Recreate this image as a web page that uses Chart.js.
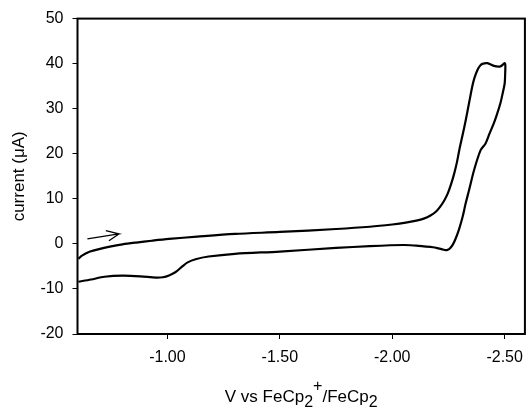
<!DOCTYPE html>
<html>
<head>
<meta charset="utf-8">
<script src="https://cdn.jsdelivr.net/npm/chart.js@4"></script>
<style>
  html, body { margin: 0; padding: 0; background: #fff; }
  #wrap { position: relative; width: 532px; height: 408px; }
</style>
</head>
<body>
<div id="wrap"><canvas id="cv"></canvas></div>
<script>
// cyclic voltammogram, forward scan (upper branch) then reverse (lower branch)
const fwdV = [-0.604, -0.62, -0.656, -0.70, -0.744, -0.80, -0.861, -0.93, -1.007, -1.132, -1.30, -1.50, -1.75, -1.90, -2.00, -2.06, -2.107, -2.14, -2.17, -2.195, -2.215, -2.232, -2.247, -2.262, -2.276, -2.288, -2.298, -2.313, -2.327, -2.339, -2.349, -2.357, -2.366, -2.379, -2.39, -2.401, -2.423, -2.452, -2.481, -2.500];
const fwdI = [-3.3, -2.6, -1.7, -1.1, -0.6, -0.1, 0.3, 0.7, 1.1, 1.6, 2.2, 2.65, 3.3, 3.8, 4.3, 4.7, 5.15, 5.6, 6.3, 7.2, 8.4, 9.7, 11.2, 13.3, 15.7, 18.2, 20.8, 24.2, 27.5, 30.6, 33.2, 35.2, 36.9, 38.6, 39.5, 39.95, 40.1, 39.5, 39.4, 40.1];
const revV = [-2.503, -2.502, -2.500, -2.491, -2.481, -2.466, -2.452, -2.432, -2.415, -2.393, -2.364, -2.342, -2.326, -2.313, -2.298, -2.283, -2.27, -2.258, -2.247, -2.237, -2.225, -2.205, -2.181, -2.14, -2.107, -2.05, -1.90, -1.75, -1.50, -1.30, -1.183, -1.125, -1.09, -1.066, -1.035, -1.007, -0.98, -0.95, -0.88, -0.80, -0.72, -0.66, -0.604];
const revI = [39.6, 37.5, 35.6, 33.4, 31.2, 28.8, 26.8, 24.4, 22.3, 20.8, 16.4, 12.0, 8.9, 6.0, 3.4, 1.3, -0.1, -0.9, -1.3, -1.4, -1.25, -1.0, -0.75, -0.55, -0.4, -0.25, -0.5, -0.9, -1.7, -2.2, -2.8, -3.4, -4.1, -5.0, -6.3, -7.0, -7.4, -7.5, -7.2, -7.05, -7.3, -7.9, -8.4];

// scan-direction arrow (tail, tip, head barbs)
const arrowV = [-0.644, -0.784, -0.726, null, -0.784, -0.740];
const arrowI = [1.09, 2.2, 2.93, null, 2.2, 0.71];

const xTicks = [-1.0, -1.5, -2.0, -2.5];
const yTicks = [-20, -10, 0, 10, 20, 30, 40, 50];

const FONT = "'Liberation Sans', Arial, sans-serif";
const pts = (xs, ys) => xs.map((x, i) => ({ x: x === null ? NaN : x, y: ys[i] }));
const cvData = pts(fwdV, fwdI).concat(pts(revV, revI));

// frame box + axis titles with sub/superscripts
const frame = {
  id: "frame",
  afterDraw(chart) {
    const { ctx, chartArea: a } = chart;
    ctx.save();
    ctx.strokeStyle = "#000";
    ctx.lineWidth = 2;
    ctx.strokeRect(a.left, a.top, a.right - a.left, a.bottom - a.top);

    ctx.fillStyle = "#000";
    ctx.textBaseline = "alphabetic";
    // x title: V vs FeCp2+/FeCp2
    const parts = [
      ["V vs FeCp", 17, 0], ["2", 16, 5], ["+", 16, -11], ["/FeCp", 17, 0], ["2", 16, 5],
    ];
    let w = 0;
    parts.forEach(([t, s]) => { ctx.font = s + "px " + FONT; w += ctx.measureText(t).width; });
    let x = (a.left + a.right) / 2 - w / 2;
    const base = 401.5;
    ctx.textAlign = "left";
    parts.forEach(([t, s, dy]) => {
      ctx.font = s + "px " + FONT;
      ctx.fillText(t, x, base + dy);
      x += ctx.measureText(t).width;
    });

    // y title
    ctx.translate(19, (a.top + a.bottom) / 2);
    ctx.rotate(-Math.PI / 2);
    ctx.font = "17px " + FONT;
    ctx.textAlign = "center";
    ctx.textBaseline = "middle";
    ctx.fillText("current (\u03bcA)", 0, 0);
    ctx.restore();
  },
};

new Chart(document.getElementById("cv"), {
  type: "scatter",
  data: {
    datasets: [
      {
        data: cvData, showLine: true, borderColor: "#000", borderWidth: 2.2,
        pointRadius: 0, tension: 0.3, spanGaps: false,
      },
      {
        data: pts(arrowV, arrowI), showLine: true, borderColor: "#000", borderWidth: 1.3,
        pointRadius: 0, tension: 0, spanGaps: false,
      },
    ],
  },
  options: {
    responsive: true, maintainAspectRatio: false, animation: false,
    layout: { padding: { top: 18.5, right: 2, left: 0, bottom: 0 } },
    plugins: { legend: { display: false }, tooltip: { enabled: false } },
    scales: {
      x: {
        type: "linear", min: -2.59, max: -0.6, reverse: true,
        afterBuildTicks: (s) => { s.ticks = xTicks.map((v) => ({ value: v })); },
        afterFit: (s) => { s.height = 74; },
        grid: { drawOnChartArea: false, drawTicks: true, tickLength: 5, color: "#000", lineWidth: 1 },
        border: { display: false },
        ticks: { color: "#000", font: { family: FONT, size: 16 }, padding: 9, maxRotation: 0,
          callback: (v) => v.toFixed(2) },
      },
      y: {
        type: "linear", min: -20, max: 50,
        afterBuildTicks: (s) => { s.ticks = yTicks.map((v) => ({ value: v })); },
        afterFit: (s) => { s.width = 77.5; },
        grid: { drawOnChartArea: false, drawTicks: true, tickLength: 5, color: "#000", lineWidth: 1 },
        border: { display: false },
        ticks: { color: "#000", font: { family: FONT, size: 16 }, padding: 9 },
      },
    },
  },
  plugins: [frame],
});
</script>
</body>
</html>
